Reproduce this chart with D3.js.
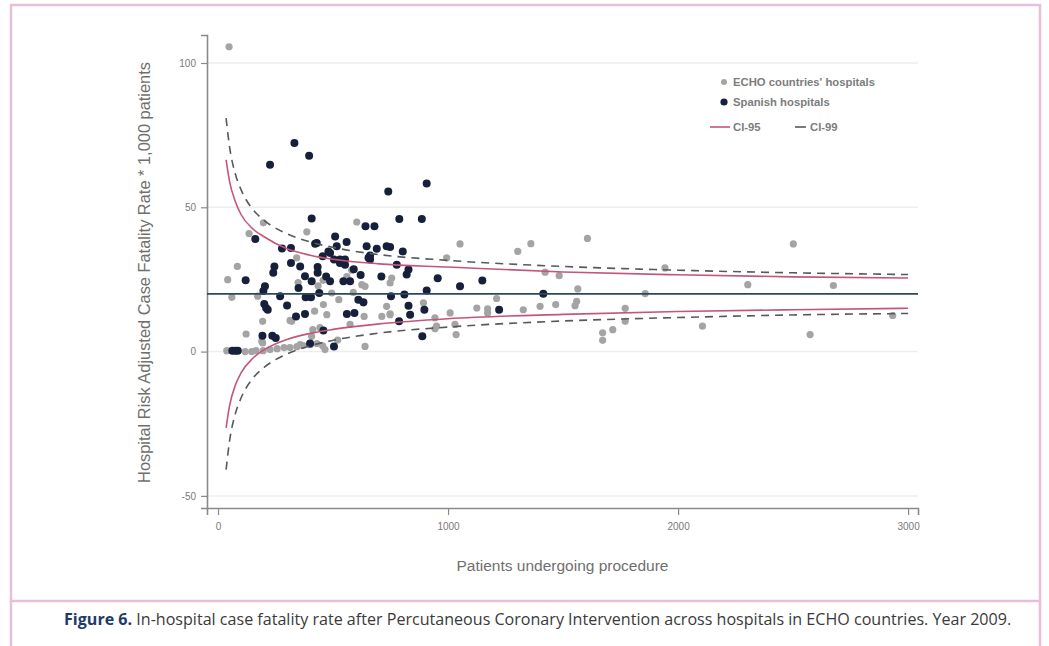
<!DOCTYPE html>
<html>
<head>
<meta charset="utf-8">
<script src="https://cdn.jsdelivr.net/npm/d3@7"></script>
<style>
  body { margin: 0; background: #fff; }
</style>
</head>
<body>
<div id="chart"></div>
<script>
// ECHO countries' hospitals (patients, rate per 1,000)
var echoN = [48, 197, 135, 386, 603, 84, 42, 342, 348, 435, 581, 457, 60, 172, 194, 122, 190, 38, 118, 165,
  196, 226, 257, 287, 313, 343, 370, 400, 430, 412, 407, 458, 473, 465, 639, 632, 733, 494, 320, 1052,
  1303, 1360, 1606, 994, 1422, 1483, 1564, 1857, 1211, 1559, 1552, 893, 1125, 1172, 1172, 1327, 1400, 1468, 1770, 1009,
  755, 748, 943, 1030, 1035, 943, 1672, 1672, 1716, 1770, 2501, 2303, 2675, 2106, 2574, 2933, 1943, 313, 194, 146,
  748, 625, 639, 588, 635, 712, 748, 950, 357, 443, 574, 525, 560, 420, 520, 455];
var echoRate = [105.6, 44.6, 40.9, 41.5, 44.9, 29.5, 24.9, 32.5, 23.9, 22.8, 28.2, 24.7, 18.8, 19.2, 10.5, 6.1, 3.6, 0.3, 0, 0.3,
  0.3, 0.7, 1.0, 1.4, 1.4, 1.7, 2.1, 2.4, 2.8, 7.6, 5.3, 16.3, 12.8, 0.7, 1.8, 16.9, 15.7, 20.3, 10.5, 37.3,
  34.7, 37.4, 39.2, 32.5, 27.5, 26.3, 21.7, 20.1, 18.4, 17.4, 15.9, 16.9, 15.1, 14.8, 13.4, 14.5, 15.7, 16.3, 15.0, 13.4,
  25.5, 12.8, 11.7, 9.4, 5.9, 7.9, 6.5, 3.9, 7.6, 10.5, 37.3, 23.2, 22.9, 8.8, 5.9, 12.5, 29.0, 10.8, 3.0, 0,
  23.8, 23.2, 22.6, 20.5, 12.2, 12.2, 13.1, 8.8, 2.4, 8.3, 9.4, 18.0, 26.0, 14.0, 4.0, 2.0];

// Spanish hospitals
var spainN = [332, 396, 226, 740, 907, 407, 788, 886, 162, 641, 680, 278, 317, 509, 559, 429, 422, 516, 480, 646,
  690, 733, 748, 803, 504, 530, 661, 661, 552, 552, 487, 530, 654, 777, 828, 820, 955, 245, 240, 317,
  357, 433, 433, 378, 407, 120, 204, 197, 487, 545, 574, 1052, 1149, 752, 810, 907, 1414, 828, 835, 897,
  1222, 787, 888, 270, 381, 404, 610, 632, 209, 201, 216, 339, 378, 560, 593, 193, 236, 251, 400, 504,
  62, 75, 86, 458, 455, 470, 350, 590, 620, 300, 440, 710];
var spainRate = [72.3, 67.9, 64.7, 55.5, 58.2, 46.1, 45.9, 45.9, 39.0, 43.4, 43.4, 35.7, 35.9, 39.9, 38.0, 37.6, 37.4, 36.5, 34.7, 36.5,
  35.6, 36.5, 36.2, 34.7, 31.9, 31.9, 31.9, 33.3, 30.1, 31.9, 34.2, 30.7, 32.5, 30.1, 28.4, 26.7, 25.4, 29.5, 27.3, 30.7,
  29.5, 29.3, 27.3, 26.1, 24.4, 24.7, 22.6, 21.0, 24.4, 24.4, 24.4, 22.6, 24.6, 19.2, 19.8, 21.2, 20.0, 15.9, 12.8, 14.5,
  14.5, 10.5, 5.3, 19.2, 18.8, 18.8, 18.0, 17.1, 15.1, 16.5, 14.5, 12.2, 13.0, 13.0, 13.4, 5.5, 5.5, 4.7, 2.8, 1.8,
  0.3, 0.3, 0.3, 7.3, 33.0, 26.0, 22.0, 28.5, 26.5, 16.0, 20.3, 26.0];

// control limits
var limitN = [35, 50, 75, 100, 150, 200, 300, 400, 500, 700, 1000, 1500, 2000, 2500, 3000];
var upper95 = [66.4, 59, 52, 47.5, 42.6, 39.8, 35.6, 33.4, 32.0, 30.4, 29.3, 27.6, 26.6, 25.9, 25.5];
var lower95 = [-26.4, -18.8, -11.7, -7.4, -2.4, 0.6, 4.2, 6.3, 7.7, 9.6, 11.4, 12.9, 13.9, 14.5, 15.0];
var upper99 = [80.9, 71.0, 61.6, 56.1, 49.4, 45.5, 40.8, 38.0, 36.1, 33.6, 31.6, 29.5, 28.2, 27.3, 26.7];
var lower99 = [-40.9, -31.0, -21.6, -16.1, -9.4, -5.5, -0.8, 2.0, 3.9, 6.4, 8.5, 10.6, 11.8, 12.7, 13.2];
var overallRate = 20;

var xTicks = [0, 1000, 2000, 3000];
var yTicks = [-50, 0, 50, 100];
var legendLabels = ["ECHO countries' hospitals", "Spanish hospitals", "CI-95", "CI-99"];
var caption = "In-hospital case fatality rate after Percutaneous Coronary Intervention across hospitals in ECHO countries. Year 2009.";

var width = 1049,
  height = 646;

var svg = d3.select("#chart").append("svg")
  .attr("width", width)
  .attr("height", height)
  .style("font-family", "'Liberation Sans', Arial, sans-serif");

// pink page frame
svg.append("rect")
  .attr("x", 11).attr("y", 5)
  .attr("width", 1029).attr("height", 596)
  .style("fill", "none")
  .style("stroke", "#e7bfd9")
  .style("stroke-width", 2.5);
svg.append("line").attr("x1", 11).attr("x2", 11).attr("y1", 601).attr("y2", 646)
  .style("stroke", "#e7bfd9").style("stroke-width", 2.5);
svg.append("line").attr("x1", 1040).attr("x2", 1040).attr("y1", 601).attr("y2", 646)
  .style("stroke", "#e7bfd9").style("stroke-width", 2.5);

var x = d3.scaleLinear()
  .domain([-48, 3043])
  .range([207, 918]);

var y = d3.scaleLinear()
  .domain([-54.2, 109.7])
  .range([508, 35]);

var xMin = x.domain()[0], xMax = x.domain()[1];
var yMin = y.domain()[0], yMax = y.domain()[1];

// grid
svg.selectAll(".grid")
  .data(yTicks)
  .enter()
  .append("line")
  .attr("class", "grid")
  .attr("x1", x(xMin)).attr("x2", x(xMax))
  .attr("y1", function(d) { return y(d); })
  .attr("y2", function(d) { return y(d); })
  .style("stroke", "#eeeeee")
  .style("stroke-width", 1.5);

// axes (plain hyphen for negatives, like the original)
var plain = function(d) { return String(d); };
var yAxis = svg.append("g")
  .attr("transform", "translate(" + x(xMin) + ",0)")
  .call(d3.axisLeft(y).tickValues(yTicks).tickSize(6).tickPadding(5).tickFormat(plain));
var xAxis = svg.append("g")
  .attr("transform", "translate(0," + y(yMin) + ")")
  .call(d3.axisBottom(x).tickValues(xTicks).tickSize(7).tickPadding(8).tickFormat(plain));

[yAxis, xAxis].forEach(function(ax) {
  ax.select(".domain").style("stroke", "#8a8a8a").style("stroke-width", 1.6);
  ax.selectAll(".tick line").style("stroke", "#8a8a8a").style("stroke-width", 1.2);
  ax.selectAll(".tick text")
    .style("fill", "#7a7a7a")
    .style("font-size", "10px")
    .style("font-family", "'Liberation Sans', Arial, sans-serif");
});

// axis titles
svg.append("text")
  .attr("transform", "translate(150," + ((y(yMax) + y(yMin)) / 2 + 1) + ") rotate(-90)")
  .style("text-anchor", "middle")
  .style("font-size", "16.4px")
  .style("fill", "#6f6f6f")
  .text("Hospital Risk Adjusted Case Fatality Rate * 1,000 patients");

svg.append("text")
  .attr("x", (x(xMin) + x(xMax)) / 2)
  .attr("y", 571)
  .style("text-anchor", "middle")
  .style("font-size", "15.5px")
  .style("fill", "#6f6f6f")
  .text("Patients undergoing procedure");

// points
var echo = echoN.map(function(n, i) { return { n: n, rate: echoRate[i] }; });
var spain = spainN.map(function(n, i) { return { n: n, rate: spainRate[i] }; });

svg.selectAll(".echo")
  .data(echo)
  .enter()
  .append("circle")
  .attr("class", "echo")
  .attr("cx", function(d) { return x(d.n); })
  .attr("cy", function(d) { return y(d.rate); })
  .attr("r", 3.6)
  .style("fill", "#a4a4a4");

svg.selectAll(".spain")
  .data(spain)
  .enter()
  .append("circle")
  .attr("class", "spain")
  .attr("cx", function(d) { return x(d.n); })
  .attr("cy", function(d) { return y(d.rate); })
  .attr("r", 4)
  .style("fill", "#16203a");

// overall rate
svg.append("line")
  .attr("x1", x(xMin)).attr("x2", x(xMax))
  .attr("y1", y(overallRate)).attr("y2", y(overallRate))
  .style("stroke", "#2e4858")
  .style("stroke-width", 1.6);

// funnel limits
var limitLine = function(vals) {
  return d3.line()
    .curve(d3.curveMonotoneX)
    .x(function(d, i) { return x(limitN[i]); })
    .y(function(d) { return y(d); })(vals);
};

[upper95, lower95].forEach(function(vals) {
  svg.append("path")
    .attr("d", limitLine(vals))
    .style("fill", "none")
    .style("stroke", "#c4567a")
    .style("stroke-width", 1.6);
});
[upper99, lower99].forEach(function(vals) {
  svg.append("path")
    .attr("d", limitLine(vals))
    .style("fill", "none")
    .style("stroke", "#555a5e")
    .style("stroke-width", 1.6)
    .style("stroke-dasharray", "8,6");
});

// legend
var lg = svg.append("g").style("font-size", "11.3px").style("fill", "#7d7d7d").style("font-weight", "bold");
lg.append("circle").attr("cx", 724).attr("cy", 82).attr("r", 3).style("fill", "#a4a4a4");
lg.append("text").attr("x", 733).attr("y", 86).text(legendLabels[0]);
lg.append("circle").attr("cx", 724).attr("cy", 102).attr("r", 3.6).style("fill", "#16203a");
lg.append("text").attr("x", 733).attr("y", 106).text(legendLabels[1]);
lg.append("line").attr("x1", 710).attr("x2", 730).attr("y1", 127).attr("y2", 127)
  .style("stroke", "#c4567a").style("stroke-width", 1.6);
lg.append("text").attr("x", 733).attr("y", 131).text(legendLabels[2]);
lg.append("line").attr("x1", 795).attr("x2", 806).attr("y1", 127).attr("y2", 127)
  .style("stroke", "#555a5e").style("stroke-width", 1.6);
lg.append("text").attr("x", 810).attr("y", 131).text(legendLabels[3]);

// caption, sized so it runs from x=64 to about x=1012
var cap = svg.append("text")
  .attr("x", 64)
  .attr("y", 625)
  .style("font-family", "'Open Sans', Lato, sans-serif")
  .style("font-size", "14px")
  .style("fill", "#3a3a3a");
cap.append("tspan").style("fill", "#1f3a6a").style("font-weight", "bold").text("Figure 6.");
cap.append("tspan").text(" " + caption);
var capLen = cap.node().getComputedTextLength();
cap.style("font-size", (14 * 948 / capLen) + "px");
</script>
</body>
</html>
